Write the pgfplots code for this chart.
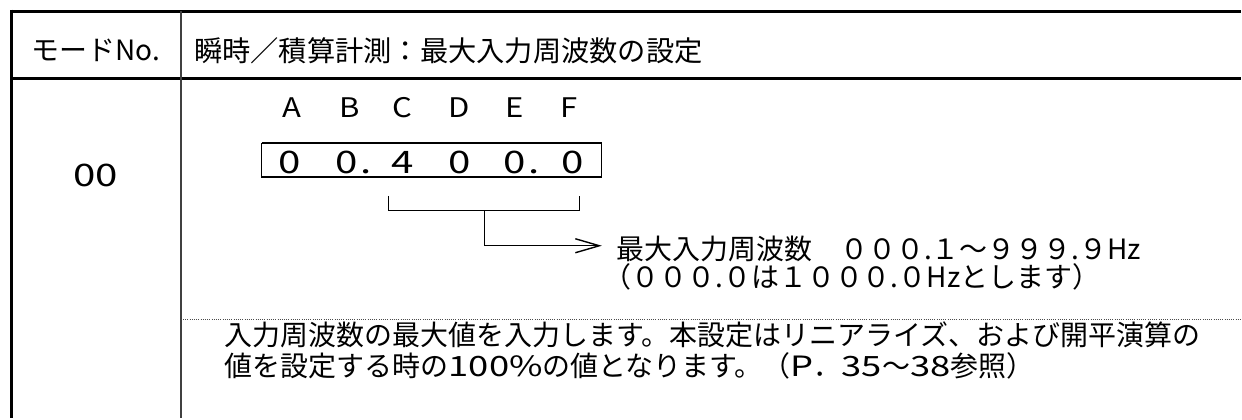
\documentclass[border=0pt]{standalone}
\usepackage{fontspec}
\setmainfont{Noto Sans CJK JP}
\newfontfamily\wide[FakeStretch=1.3]{Noto Sans CJK JP}
\newfontfamily\widel[FakeStretch=1.15]{Noto Sans CJK JP}
\usepackage{pgfplots}
\pgfplotsset{compat=1.18}
\newcommand\fs[1]{\fontsize{#1}{#1}\selectfont}
\begin{document}
\begin{tikzpicture}
\begin{axis}[width=1242pt,height=418pt,scale only axis,
  xmin=0,xmax=1242,ymin=0,ymax=418,y dir=reverse,hide axis,clip=false]
% frame of the picture
\addplot[draw=white,line width=0.1pt] coordinates {(0,0) (1242,0) (1242,418) (0,418) (0,0)};
% table rules
\addplot[black,line width=3pt] coordinates {(10,11) (1242,11)};
\addplot[black,line width=3pt] coordinates {(10,79) (1242,79)};
\addplot[black,line width=3pt] coordinates {(11,9.5) (11,418)};
\addplot[black!75,line width=1.6pt] coordinates {(181,11) (181,418)};
\addplot[black!70,line width=0.9pt,dash pattern=on 1pt off 1.2pt] coordinates {(181,320) (1242,320)};
% digit box
\addplot[black,line width=1.4pt] coordinates {(262,143) (602,143) (602,177) (262,177) (262,143)};
% bracket and arrow
\addplot[black,line width=1.4pt] coordinates {(389,196) (389,211) (580,211) (580,196)};
\addplot[black,line width=1.4pt] coordinates {(485,211) (485,246) (600,246)};
\addplot[black,line width=1.4pt] coordinates {(576,239) (600,246) (576,253)};
% texts
\node[anchor=center,inner sep=0] at (axis cs:96,50) {\fs{28}モードNo.};
\node[anchor=west,inner sep=0] at (axis cs:194,51) {\fs{28.3}瞬時／積算計測：最大入力周波数の設定};
\node[anchor=center,inner sep=0] at (axis cs:96,176) {\wide\fs{31}00};
\node[anchor=center,inner sep=0] at (axis cs:292,108) {\widel\fs{27}A};
\node[anchor=center,inner sep=0] at (axis cs:350,108) {\widel\fs{27}B};
\node[anchor=center,inner sep=0] at (axis cs:403,108) {\widel\fs{27}C};
\node[anchor=center,inner sep=0] at (axis cs:460,108) {\widel\fs{27}D};
\node[anchor=center,inner sep=0] at (axis cs:515,108) {\widel\fs{27}E};
\node[anchor=center,inner sep=0] at (axis cs:570,108) {\widel\fs{27}F};
\node[anchor=base,inner sep=0] at (axis cs:290,174) {\wide\fs{31}0};
\node[anchor=base,inner sep=0] at (axis cs:347,174) {\wide\fs{31}0};
\node[anchor=base,inner sep=0] at (axis cs:403,174) {\wide\fs{31}4};
\node[anchor=base,inner sep=0] at (axis cs:460,174) {\wide\fs{31}0};
\node[anchor=base,inner sep=0] at (axis cs:515,174) {\wide\fs{31}0};
\node[anchor=base,inner sep=0] at (axis cs:573,174) {\wide\fs{31}0};
\node[anchor=base,inner sep=0] at (axis cs:366,174) {\wide\fs{31}.};
\node[anchor=base,inner sep=0] at (axis cs:535,174) {\wide\fs{31}.};
\node[anchor=west,inner sep=0] at (axis cs:617,249) {\fs{28}最大入力周波数　０００.１～９９９.９Hz};
\node[anchor=west,inner sep=0] at (axis cs:604,277) {\fs{28}（０００.０は１０００.０Hzとします）};
\node[anchor=west,inner sep=0] at (axis cs:225,335) {\fs{28}入力周波数の最大値を入力します。本設定はリニアライズ、および開平演算の};
\node[anchor=west,inner sep=0] at (axis cs:225,366) {\fs{28}値を設定する時の{\wide 100\%}の値となります。（{\wide P}．{\wide 35}～{\wide 38}参照）};
\end{axis}
\end{tikzpicture}
\end{document}
